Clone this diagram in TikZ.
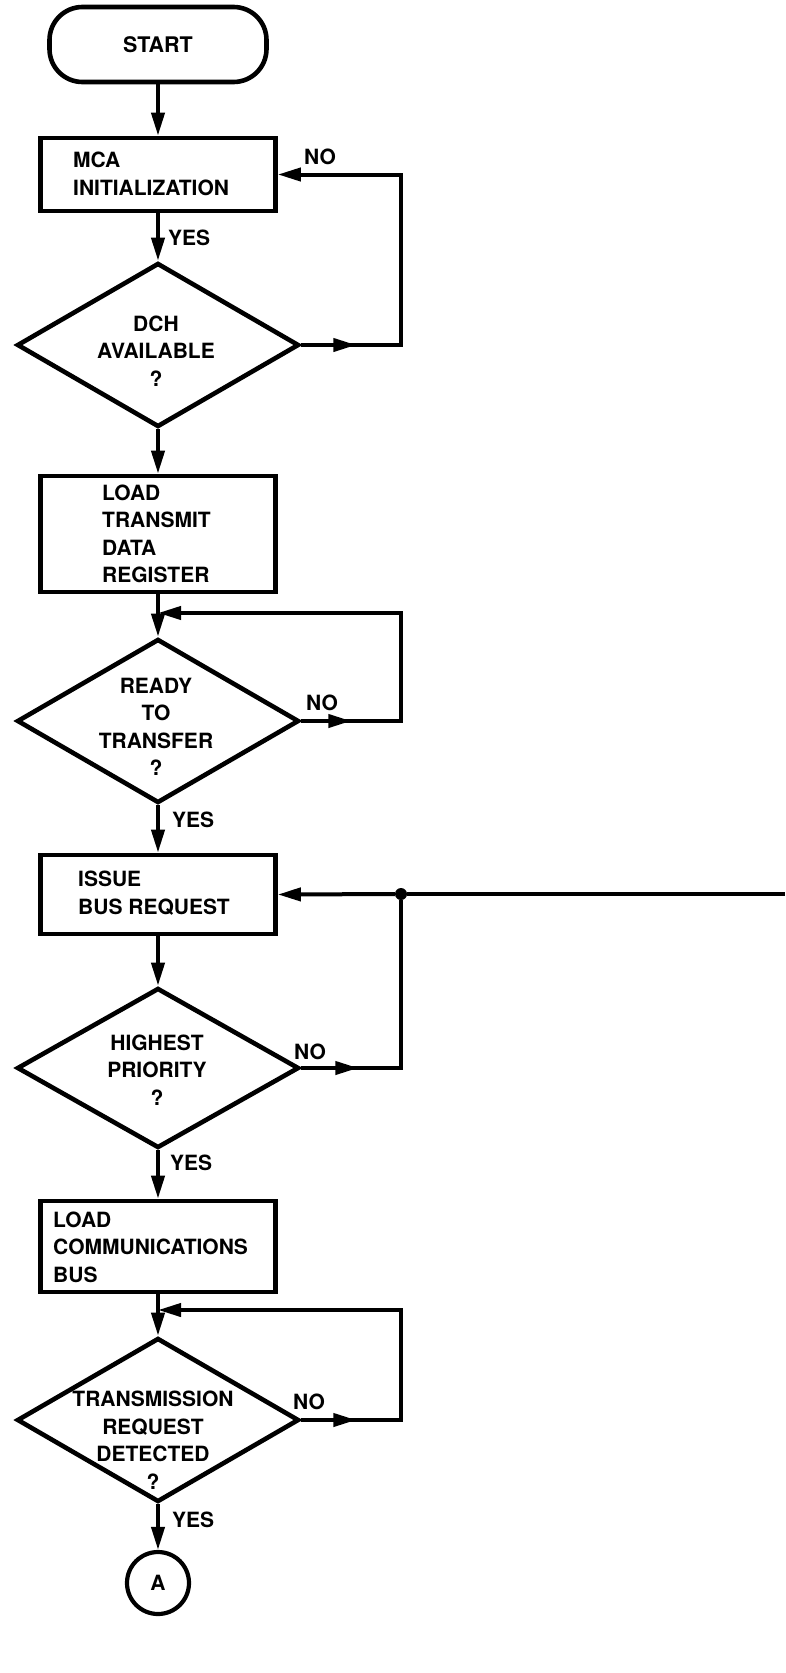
\documentclass[tikz,border=0pt]{standalone}
\usepackage{fontspec}
\setmainfont{TeX Gyre Heros}
\usetikzlibrary{shapes.geometric, arrows.meta, positioning, calc, decorations.markings}

\tikzset{
  x=1pt, y=-1pt,
  chartfont/.style={font=\bfseries\fontsize{21}{27.5}\selectfont},
  term/.style={draw, line width=4.6pt, rounded corners=33pt, minimum width=217pt, minimum height=75pt, font=\bfseries\fontsize{21.5}{26}\selectfont},
  procbox/.style={draw, line width=4.6pt, minimum width=235pt, inner sep=0pt},
  decision/.style={draw, diamond, line width=4.6pt, minimum width=282pt, minimum height=164pt, inner sep=0pt},
  linktag/.style={draw, circle, line width=4.2pt, minimum size=62pt, inner sep=0pt, chartfont},
  boxtext/.style={anchor=west, align=left, inner sep=0pt, chartfont},
  dtext/.style={align=center, inner sep=0pt, chartfont},
  lbl/.style={anchor=west, inner sep=0pt, chartfont},
  junction/.style={circle, fill, minimum size=12pt, inner sep=0pt},
  wire/.style={line width=4pt},
  flow/.style={wire, -{Triangle[length=23pt,width=13pt]}},
  midarrow/.style={postaction={decorate}, decoration={markings,
      mark=at position #1 with {\arrow{Triangle[length=23pt,width=13pt]}}}}
}

\begin{document}
\begin{tikzpicture}
    \useasboundingbox (0,0) rectangle (785,1673);
    \fill[white] (0,0) rectangle (785,1673);
    \coordinate (rail) at (401,0);
    % Start
    \node[term] (start) at (158,44.5) {START};
    % MCA initialization
    \node[procbox, minimum height=73pt] (mca) at (158,174.5) {};
    \node[boxtext] (mcatext) at (73,174) {MCA\\INITIALIZATION};
    % DCH available ?
    \node[decision] (dch) at (158,345) {};
    \node[dtext] (dchtext) at (156,351) {DCH\\AVAILABLE\\?};
    % Load transmit data register
    \node[procbox, minimum height=116pt] (load) at (158,534) {};
    \node[boxtext] (loadtext) at (102,534) {LOAD\\TRANSMIT\\DATA\\REGISTER};
    % Ready to transfer ?
    \node[decision] (ready) at (158,721) {};
    \node[dtext] (readytext) at (156,727) {READY\\TO\\TRANSFER\\?};
    % Issue bus request
    \node[procbox, minimum height=79pt] (issue) at (158,894.5) {};
    \node[boxtext] (issuetext) at (78,893) {ISSUE\\BUS REQUEST};
    % Highest priority ?
    \node[decision, minimum height=160pt] (prio) at (158,1068) {};
    \node[dtext] (priotext) at (157,1070) {HIGHEST\\PRIORITY\\?};
    % Load communications bus
    \node[procbox, minimum height=91pt] (lcb) at (158,1246.5) {};
    \node[boxtext] (lcbtext) at (53,1247) {LOAD\\COMMUNICATIONS\\BUS};
    % Transmission request detected ?
    \node[decision] (trq) at (158,1420) {};
    \node[dtext] (trqtext) at (153,1440) {TRANSMISSION\\REQUEST\\DETECTED\\?};
    % Connector A
    \node[linktag] (conA) at (158,1583) {A};

    % main flow
    \draw[flow] (start.south) -- (mca.north);
    \draw[flow] (mca.south) -- (dch.north);
    \draw[flow] (dch.south) -- (load.north);
    \draw[flow] (load.south) -- (ready.north);
    \draw[flow] (ready.south) -- (issue.north);
    \draw[flow] (issue.south) -- (prio.north);
    \draw[flow] (prio.south) -- (lcb.north);
    \draw[flow] (lcb.south) -- (trq.north);
    \draw[flow] (trq.south) -- (conA.north);

    % NO loops
    \coordinate (readyin) at (158,613);
    \coordinate (trqin) at (158,1310);
    \node[junction] (junc) at (401,894) {};
    \coordinate (busout) at (785,894);
    \draw[flow, midarrow=55pt] (dch.east) -- (dch.east -| rail) |- (mca.east);
    \draw[flow, midarrow=50pt] (ready.east) -- (ready.east -| rail) |- (readyin);
    \draw[wire, midarrow=57pt] (prio.east) -- (prio.east -| junc) -- (junc);
    \draw[flow] (junc) -- (issue.east);
    \draw[wire] (junc) -- (busout);
    \draw[flow, midarrow=55pt] (trq.east) -- (trq.east -| rail) |- (trqin);

    % branch labels
    \node[lbl] (yes1) at (168,238) {YES};
    \node[lbl] (no1) at (304,157) {NO};
    \node[lbl] (yes2) at (172,820) {YES};
    \node[lbl] (no2) at (306,703) {NO};
    \node[lbl] (yes3) at (170,1163) {YES};
    \node[lbl] (no3) at (294,1052) {NO};
    \node[lbl] (yes4) at (172,1520) {YES};
    \node[lbl] (no4) at (293,1402) {NO};
\end{tikzpicture}
\end{document}
